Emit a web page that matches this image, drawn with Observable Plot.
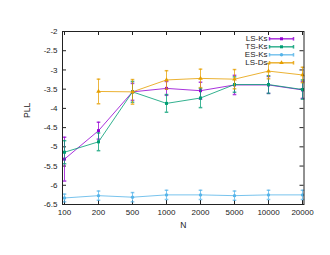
<!DOCTYPE html>
<html><head><meta charset="utf-8">
<script src="https://cdn.jsdelivr.net/npm/d3@7"></script>
<script src="https://cdn.jsdelivr.net/npm/@observablehq/plot@0.6"></script>
<style>body{margin:0;background:#fff} svg{font-family:"Liberation Sans",Arial,sans-serif}</style>
</head><body><div id="chart"></div>
<script>
const Ns = ["100","200","500","1000","2000","5000","10000","20000"];
const yTicks = [-2,-2.5,-3,-3.5,-4,-4.5,-5,-5.5,-6,-6.5];
const series = ["LS-Ks","TS-Ks","ES-Ks","LS-Ds"];
const colors = ["#9400d3","#009e73","#56b4e9","#e69f00"];
const symbols = ["square","square","circle","triangle"];
const lsKs    = [-5.32,-4.58,-3.57,-3.48,-3.54,-3.39,-3.39,-3.52];
const lsKsErr = [0.57,0.22,0.22,0.18,0.22,0.25,0.22,0.22];
const tsKs    = [-5.14,-4.87,-3.57,-3.87,-3.73,-3.38,-3.38,-3.51];
const tsKsErr = [0.3,0.23,0.27,0.23,0.25,0.2,0.23,0.25];
const esKs    = [-6.33,-6.27,-6.31,-6.25,-6.25,-6.27,-6.25,-6.25];
const esKsErr = [0.1,0.12,0.12,0.12,0.12,0.12,0.12,0.12];
const lsDs    = [null,-3.56,-3.57,-3.26,-3.22,-3.24,-3.03,-3.13];
const lsDsErr = [null,0.32,0.32,0.24,0.24,0.25,0.2,0.2];

const values = [lsKs, tsKs, esKs, lsDs];
const errs = [lsKsErr, tsKsErr, esKsErr, lsDsErr];
const rows = [];
series.forEach((s, i) => Ns.forEach((n, j) => {
  const v = values[i][j];
  if (v != null) rows.push({s, N: n, v, lo: v - errs[i][j], hi: v + errs[i][j]});
}));

const W = 330, H = 255, mL = 62, mR = 26.5, mT = 31, mB = 51;
const pw = W - mL - mR, ph = H - mT - mB;
const ink = "#222";
const hline = {draw(ctx, size) { const w = Math.sqrt(size / Math.PI); ctx.moveTo(-w, 0); ctx.lineTo(w, 0); }};
const vline = {draw(ctx, size) { const w = Math.sqrt(size / Math.PI); ctx.moveTo(0, -w); ctx.lineTo(0, w); }};

const marks = [];
series.forEach((s, i) => {
  const d = rows.filter(r => r.s === s);
  const c = colors[i];
  marks.push(Plot.ruleX(d, {x: "N", y1: "lo", y2: "hi", stroke: c, strokeOpacity: 0.75, strokeWidth: 1}));
  marks.push(Plot.dot(d, {x: "N", y: "lo", symbol: hline, r: 1.8, stroke: c, fill: "none", strokeOpacity: 0.75}));
  marks.push(Plot.dot(d, {x: "N", y: "hi", symbol: hline, r: 1.8, stroke: c, fill: "none", strokeOpacity: 0.75}));
  marks.push(Plot.line(d, {x: "N", y: "v", stroke: c, strokeOpacity: 0.8, strokeWidth: 1}));
  marks.push(Plot.dot(d, {x: "N", y: "v", symbol: symbols[i], r: 1.7, fill: c, stroke: "none"}));
  // legend
  const dy = 7.3 + i * 8;
  marks.push(Plot.text([s], {frameAnchor: "top-right", text: d => d, textAnchor: "end", lineAnchor: "middle", dx: -36.5, dy, fontSize: 8, fill: ink}));
  marks.push(Plot.dot([s], {frameAnchor: "top-right", dx: -22.5, dy, symbol: hline, r: 12, stroke: c, fill: "none", strokeOpacity: 0.8}));
  marks.push(Plot.dot([s], {frameAnchor: "top-right", dx: -34.5, dy, symbol: vline, r: 1.8, stroke: c, fill: "none", strokeOpacity: 0.8}));
  marks.push(Plot.dot([s], {frameAnchor: "top-right", dx: -10.5, dy, symbol: vline, r: 1.8, stroke: c, fill: "none", strokeOpacity: 0.8}));
  marks.push(Plot.dot([s], {frameAnchor: "top-right", dx: -22.5, dy, symbol: symbols[i], r: 1.7, fill: c, stroke: "none"}));
});

const chart = Plot.plot({
  width: W, height: H,
  marginLeft: mL, marginRight: mR, marginTop: mT, marginBottom: mB,
  style: {fontFamily: "'Liberation Sans', Arial, sans-serif", fontSize: "8px", color: ink, background: "#fff"},
  x: {type: "point", domain: Ns, padding: 0},
  y: {domain: [-6.5, -2]},
  marks: [
    Plot.axisY({ticks: yTicks, tickSize: 0, tickPadding: 5, tickFormat: d => String(d), label: null, fontSize: 8}),
    Plot.axisX({ticks: Ns, tickSize: 0, tickPadding: 5, label: null, fontSize: 8}),
    Plot.ruleY(yTicks, {y: d => d, insetRight: pw - 4, stroke: ink}),
    Plot.ruleY(yTicks, {y: d => d, insetLeft: pw - 4, stroke: ink}),
    Plot.ruleX(Ns, {x: d => d, insetTop: ph - 4, stroke: ink}),
    Plot.ruleX(Ns, {x: d => d, insetBottom: ph - 4, stroke: ink}),
    ...marks,
    Plot.frame({stroke: ink, strokeWidth: 1}),
    Plot.text(["PLL"], {frameAnchor: "left", text: d => d, rotate: -90, dx: -35, fontSize: 8.5, fill: ink}),
    Plot.text(["N"], {frameAnchor: "bottom", text: d => d, dy: 21, lineAnchor: "middle", fontSize: 8.5, fill: ink})
  ]
});
document.getElementById("chart").appendChild(chart);
</script></body></html>
